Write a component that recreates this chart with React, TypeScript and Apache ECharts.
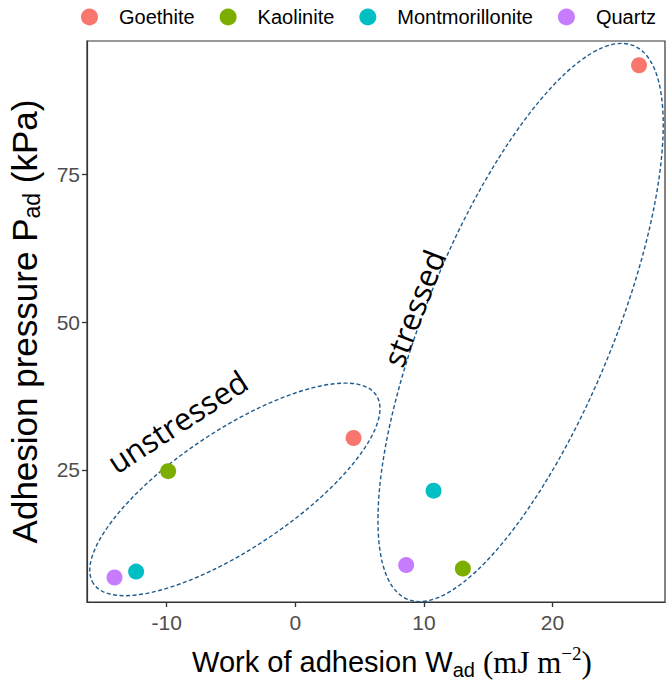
import React, { useEffect, useRef } from "react";
import * as echarts from "echarts";

const minerals = ["Goethite", "Kaolinite", "Montmorillonite", "Quartz"];
const mineralColors = ["#F8766D", "#7CAE00", "#00BFC4", "#C77CFF"];
const unstressedW = [4.53, -9.89, -12.38, -14.06];
const unstressedP = [30.4, 24.8, 7.8, 6.8];
const stressedW = [26.73, 13.03, 10.75, 8.62];
const stressedP = [93.5, 8.3, 21.5, 8.9];
const xTicks = [-10, 0, 10, 20];
const yTicks = [25, 50, 75];
const xRange = [-16.2, 28.75];
const yRange = [2.65, 97.6];
const groups = ["unstressed", "stressed"];
const ellipseTipA = [
  [6.29, 37.66],
  [26.3, 96.8],
];
const ellipseTipB = [
  [-15.69, 5.75],
  [8.74, 3.11],
];
const groupLabelPos = [
  [-9.19, 33.2],
  [9.2, 52.4],
];

const ellipseMinorPx = [59, 94];
const labelRotateDeg = [33, 69];

export default function App() {
  const ref = useRef<HTMLDivElement>(null);
  useEffect(() => {
    if (!ref.current) return;
    const chart = echarts.init(ref.current, null, { renderer: "svg" });
    const scatterSeries = minerals.map((m, i) => ({
      name: m,
      type: "scatter",
      symbol: "circle",
      symbolSize: 16,
      itemStyle: { color: mineralColors[i], opacity: 1 },
      data: [
        [unstressedW[i], unstressedP[i]],
        [stressedW[i], stressedP[i]],
      ],
      z: 3,
    }));
    const option: any = {
      animation: false,
      backgroundColor: "#fff",
      legend: {
        data: minerals.map((m) => ({ name: m, icon: "circle" })),
        left: 76,
        top: 2,
        width: 620,
        itemWidth: 17,
        itemHeight: 17,
        itemGap: 25,
        textStyle: {
          fontFamily: "Liberation Sans",
          fontSize: 20,
          color: "#000",
          padding: [0, 0, 0, 16],
        },
      },
      grid: {
        left: 87,
        right: 3,
        top: 41,
        bottom: 87,
        outerBoundsMode: "none",
        containLabel: false,
        show: true,
        borderColor: "#333",
        borderWidth: 1.2,
        backgroundColor: "transparent",
      },
      xAxis: {
        type: "value",
        min: xRange[0],
        max: xRange[1],
        splitLine: { show: false },
        axisLine: { show: true, onZero: false, lineStyle: { color: "#333", width: 1.2 } },
        axisTick: { show: true, length: 5, customValues: xTicks, lineStyle: { color: "#333", width: 1.3 } },
        axisLabel: {
          customValues: xTicks,
          color: "#4D4D4D",
          fontSize: 21,
          fontFamily: "Liberation Sans",
          margin: 10,
        },
        name: "Work of adhesion W{sub|ad} {ser|(mJ m}{sup|−2}{ser|)}",
        nameLocation: "middle",
        nameGap: 42,
        nameTextStyle: {
          fontFamily: "Liberation Sans",
          fontSize: 29,
          color: "#000",
          lineHeight: 36,
          padding: [0, 0, 0, 32],
          rich: {
            sub: { fontFamily: "Liberation Sans", fontSize: 20, lineHeight: 20, verticalAlign: "bottom", color: "#000" },
            sup: { fontFamily: "Liberation Serif", fontSize: 19, lineHeight: 19, verticalAlign: "top", color: "#000" },
            ser: { fontFamily: "Liberation Serif", fontSize: 31, lineHeight: 36, color: "#000" },
          },
        },
      },
      yAxis: {
        type: "value",
        min: yRange[0],
        max: yRange[1],
        splitLine: { show: false },
        axisLine: { show: true, onZero: false, lineStyle: { color: "#333", width: 1.2 } },
        axisTick: { show: true, length: 5, customValues: yTicks, lineStyle: { color: "#333", width: 1.3 } },
        axisLabel: {
          customValues: yTicks,
          color: "#4D4D4D",
          fontSize: 21,
          fontFamily: "Liberation Sans",
          margin: 7,
        },
        name: "Adhesion pressure P{sub|ad} {par|(kPa)}",
        nameLocation: "middle",
        nameGap: 44,
        nameTextStyle: {
          fontFamily: "Liberation Sans",
          fontSize: 35,
          color: "#000",
          lineHeight: 38,
          rich: {
            sub: { fontFamily: "Liberation Sans", fontSize: 23, lineHeight: 21, verticalAlign: "bottom", color: "#000" },
            par: { fontFamily: "Liberation Sans", fontSize: 35, lineHeight: 38, color: "#000" },
          },
        },
      },
      series: [
        {
          type: "custom",
          silent: true,
          z: 2,
          encode: { x: [0, 2], y: [1, 3] },
          data: groups.map((g, k) => [ellipseTipA[k][0], ellipseTipA[k][1], ellipseTipB[k][0], ellipseTipB[k][1]]),
          renderItem: (params: any, api: any) => {
            const a = api.coord([api.value(0), api.value(1)]);
            const b = api.coord([api.value(2), api.value(3)]);
            const cx = (a[0] + b[0]) / 2;
            const cy = (a[1] + b[1]) / 2;
            const half = Math.hypot(a[0] - b[0], a[1] - b[1]) / 2;
            const rot = Math.atan2(b[1] - a[1], a[0] - b[0]);
            return {
              type: "ellipse",
              x: cx,
              y: cy,
              rotation: rot,
              shape: { cx: 0, cy: 0, rx: half, ry: ellipseMinorPx[params.dataIndex] },
              style: { fill: "none", stroke: "#1F5A8C", lineWidth: 1.4, lineDash: [4, 2.5] },
            };
          },
        },
        {
          type: "custom",
          silent: true,
          z: 4,
          encode: { x: 0, y: 1 },
          data: groupLabelPos.map((p) => [p[0], p[1]]),
          renderItem: (params: any, api: any) => {
            const p = api.coord([api.value(0), api.value(1)]);
            return {
              type: "text",
              x: p[0],
              y: p[1],
              rotation: (labelRotateDeg[params.dataIndex] * Math.PI) / 180,
              style: {
                text: groups[params.dataIndex],
                fontFamily: "Open Sans",
                fontSize: 31,
                fill: "#000",
                align: "center",
                verticalAlign: "middle",
              },
            };
          },
        },
        ...scatterSeries,
      ],
    };
    chart.setOption(option);
    return () => chart.dispose();
  }, []);
  return <div ref={ref} style={{ width: 668, height: 689, position: "absolute", left: 0, top: 0 }} />;
}
